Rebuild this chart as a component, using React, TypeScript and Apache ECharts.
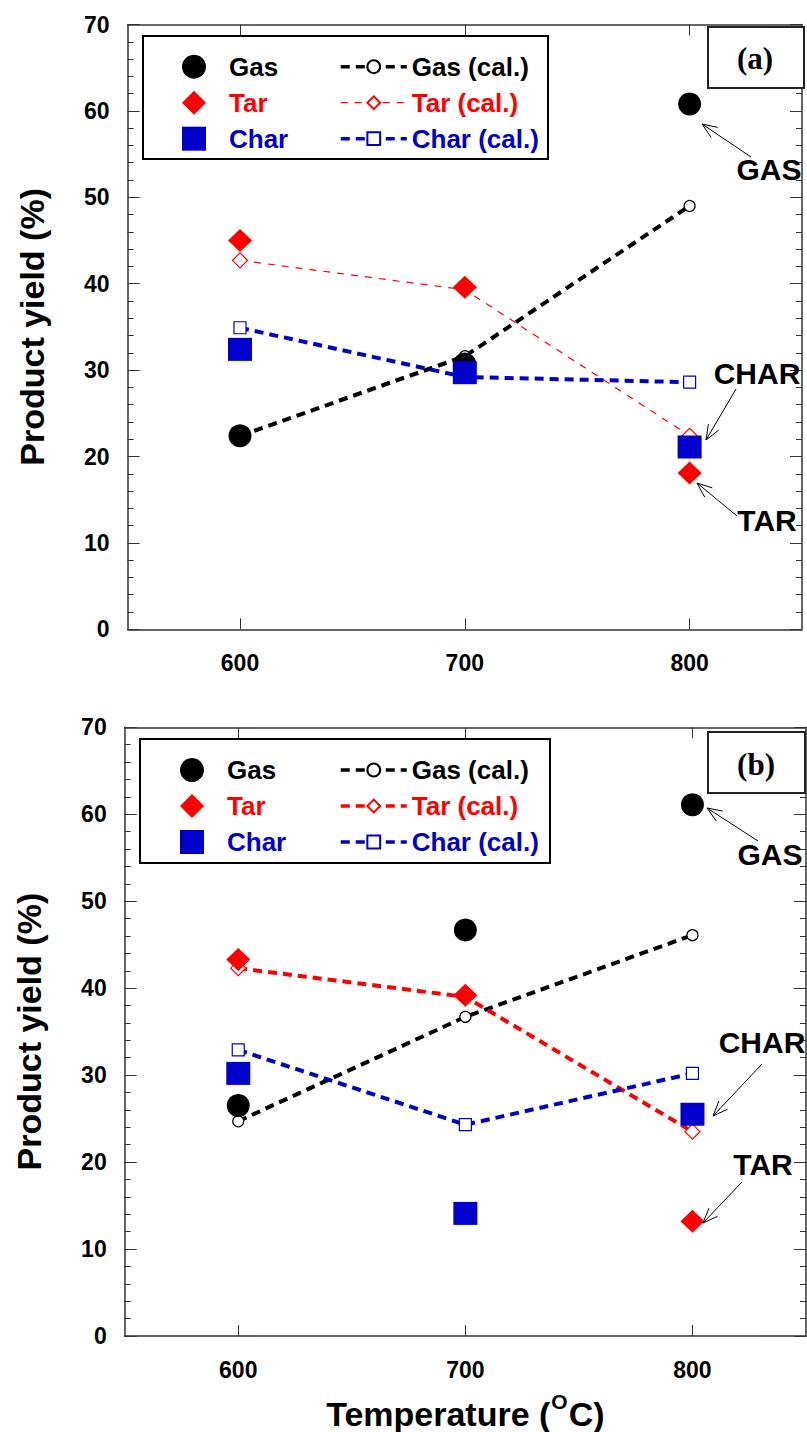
import React, { useEffect, useRef } from 'react';
import * as echarts from 'echarts';

// ---------- data ----------
const temps = [600, 700, 800];
const xTickValues = [600, 700, 800];

// Panel (a)
const gasExpA = [22.4, 30.7, 60.8];
const tarExpA = [45.0, 39.6, 18.1];
const charExpA = [32.4, 29.7, 21.1];
const gasCalA = [22.4, 31.6, 49.0];
const tarCalA = [42.7, 39.3, 22.4];
const charCalA = [34.9, 29.2, 28.6];

// Panel (b)
const gasExpB = [26.5, 46.7, 61.1];
const tarExpB = [43.3, 39.2, 13.2];
const charExpB = [30.2, 14.1, 25.5];
const gasCalB = [24.7, 36.7, 46.1];
const tarCalB = [42.3, 39.0, 23.5];
const charCalB = [32.9, 24.3, 30.2];

// ---------- styles ----------
const SANS = "'Liberation Sans', Arial, Helvetica, sans-serif";
const SERIF = "'Liberation Serif', 'Times New Roman', serif";
const BLACK = '#000000';
const RED = '#FF0000';
const BLUE = '#0000CC';
const AXIS = '#333333';
const THICK = 4;
const THICK_DASH = [9, 6];
const THIN_DASH = [7, 7];

const pts = (ys: number[]) => temps.map((t, i) => [t, ys[i]]);

function arrow(x1: number, y1: number, x2: number, y2: number) {
  const ang = Math.atan2(y1 - y2, x1 - x2);
  const L = 16;
  const a = 0.38;
  const h1 = [x2 + L * Math.cos(ang + a), y2 + L * Math.sin(ang + a)];
  const h2 = [x2 + L * Math.cos(ang - a), y2 + L * Math.sin(ang - a)];
  const style = { stroke: '#000', lineWidth: 1, fill: null as any };
  return [
    { type: 'line', shape: { x1, y1, x2, y2 }, style, z: 50 },
    { type: 'polyline', shape: { points: [h1, [x2, y2], h2] }, style, z: 50 },
  ];
}

function annot(text: string, x: number, y: number) {
  return {
    type: 'text',
    x,
    y,
    z: 50,
    style: {
      text,
      fill: '#000',
      font: `bold 30px ${SANS}`,
      align: 'center',
      verticalAlign: 'middle',
    },
  };
}

function xAxes(gridIndex: number, withName: boolean) {
  const common = {
    type: 'value',
    gridIndex,
    min: 550,
    max: 850,
    splitLine: { show: false },
    axisLine: { show: true, onZero: false, lineStyle: { color: AXIS, width: 1.5 } },
    axisTick: { show: true, inside: true, length: 11, customValues: xTickValues, lineStyle: { color: AXIS, width: 1 } },
  };
  const bottom: any = {
    ...common,
    position: 'bottom',
    axisLabel: {
      show: true,
      customValues: xTickValues,
      margin: 22,
      fontFamily: SANS,
      fontWeight: 'bold',
      fontSize: 23,
      color: '#000',
    },
  };
  if (withName) {
    bottom.name = '{t|Temperature (}{s|O}{t|C)}';
    bottom.nameLocation = 'middle';
    bottom.nameGap = 55;
    bottom.nameTextStyle = {
      rich: {
        t: { fontFamily: SANS, fontWeight: 'bold', fontSize: 34, color: '#000', lineHeight: 40, verticalAlign: 'bottom' },
        s: { fontFamily: SANS, fontWeight: 'bold', fontSize: 21, color: '#000', lineHeight: 40, verticalAlign: 'top', padding: [0, 1, 0, 1] },
      },
    };
  }
  const top: any = { ...common, position: 'top', axisLabel: { show: false } };
  return [bottom, top];
}

function yAxes(gridIndex: number) {
  const common = {
    type: 'value',
    gridIndex,
    min: 0,
    max: 70,
    interval: 10,
    splitLine: { show: false },
    axisLine: { show: true, onZero: false, lineStyle: { color: AXIS, width: 1.5 } },
    axisTick: { show: true, inside: true, length: 12, lineStyle: { color: AXIS, width: 1 } },
    minorTick: { show: true, splitNumber: 5, length: 6, lineStyle: { color: AXIS, width: 1 } },
  };
  const left: any = {
    ...common,
    position: 'left',
    name: 'Product yield (%)',
    nameLocation: 'middle',
    nameRotate: 90,
    nameGap: 79,
    nameTextStyle: { fontFamily: SANS, fontWeight: 'bold', fontSize: 34, color: '#000' },
    axisLabel: { show: true, margin: 18, fontFamily: SANS, fontWeight: 'bold', fontSize: 23, color: '#000' },
  };
  const right: any = { ...common, position: 'right', axisLabel: { show: false } };
  return [left, right];
}

function panelSeries(
  axisIdx: number,
  suffix: string,
  gasExp: number[],
  tarExp: number[],
  charExp: number[],
  gasCal: number[],
  tarCal: number[],
  charCal: number[],
  tarCalWidth: number,
  tarDash: number[]
) {
  const calLine = (name: string, data: number[], color: string, symbol: string, size: any, width: number, dash: number[]) => ({
    type: 'line',
    name: name + suffix,
    xAxisIndex: axisIdx,
    yAxisIndex: axisIdx,
    data: pts(data),
    symbol,
    symbolSize: size,
    showSymbol: true,
    z: 2,
    lineStyle: { color, width, type: dash },
    itemStyle: { color: '#ffffff', borderColor: color, borderWidth: 1.2 },
  });
  const exp = (name: string, data: number[], color: string, symbol: string, size: any) => ({
    type: 'scatter',
    name: name + suffix,
    xAxisIndex: axisIdx,
    yAxisIndex: axisIdx,
    data: pts(data),
    symbol,
    symbolSize: size,
    z: 3,
    itemStyle: { color, opacity: 1 },
  });
  return [
    calLine('Gas (cal.)', gasCal, BLACK, 'circle', 11, THICK, THICK_DASH),
    calLine('Tar (cal.)', tarCal, RED, 'diamond', 15, tarCalWidth, tarDash),
    calLine('Char (cal.)', charCal, BLUE, 'rect', 12, THICK, THICK_DASH),
    exp('Gas', gasExp, BLACK, 'circle', 23),
    exp('Tar', tarExp, RED, 'diamond', [24, 23]),
    exp('Char', charExp, BLUE, 'rect', [24, 23]),
  ];
}

function legends(suffix: string, top: number, leftExp: number, leftCal: number, tarWidth: number, tarDash: number[]) {
  const base = {
    orient: 'vertical',
    top,
    selectedMode: false,
    itemGap: 10,
    formatter: (n: string) => n.replace('_b', ''),
  };
  return [
    {
      ...base,
      left: leftExp,
      itemWidth: 24,
      itemHeight: 24,
      textStyle: { fontFamily: SANS, fontWeight: 'bold', fontSize: 26, lineHeight: 26, padding: [0, 0, 0, 18] },
      data: [
        { name: 'Gas' + suffix, textStyle: { color: BLACK } },
        { name: 'Tar' + suffix, textStyle: { color: RED } },
        { name: 'Char' + suffix, textStyle: { color: BLUE } },
      ],
    },
    {
      ...base,
      left: leftCal,
      itemWidth: 66,
      itemHeight: 16,
      textStyle: { fontFamily: SANS, fontWeight: 'bold', fontSize: 26, lineHeight: 26, padding: [0, 0, 0, 0] },
      data: [
        { name: 'Gas (cal.)' + suffix, textStyle: { color: BLACK }, lineStyle: { color: BLACK, width: 3.5, type: THICK_DASH } },
        { name: 'Tar (cal.)' + suffix, textStyle: { color: RED }, lineStyle: { color: RED, width: tarWidth, type: tarDash } },
        { name: 'Char (cal.)' + suffix, textStyle: { color: BLUE }, lineStyle: { color: BLUE, width: 3.5, type: THICK_DASH } },
      ],
    },
  ];
}

export default function App() {
  const ref = useRef<HTMLDivElement>(null);

  useEffect(() => {
    if (!ref.current) return;
    const chart = echarts.init(ref.current, undefined, { renderer: 'svg' });

    const graphic: any[] = [
      // legend frames
      { type: 'rect', shape: { x: 143, y: 36, width: 405, height: 123 }, style: { fill: 'transparent', stroke: '#000', lineWidth: 2 }, z: 0 },
      { type: 'rect', shape: { x: 140, y: 739, width: 410, height: 124 }, style: { fill: 'transparent', stroke: '#000', lineWidth: 2 }, z: 0 },
      // panel labels
      { type: 'rect', shape: { x: 708, y: 27, width: 96, height: 61 }, style: { fill: '#fff', stroke: '#222', lineWidth: 2 }, z: 40 },
      { type: 'text', x: 755, y: 58, z: 41, style: { text: '(a)', fill: '#000', font: `bold 31px ${SERIF}`, align: 'center', verticalAlign: 'middle' } },
      { type: 'rect', shape: { x: 708, y: 732, width: 97, height: 61 }, style: { fill: '#fff', stroke: '#222', lineWidth: 2 }, z: 40 },
      { type: 'text', x: 756, y: 764, z: 41, style: { text: '(b)', fill: '#000', font: `bold 31px ${SERIF}`, align: 'center', verticalAlign: 'middle' } },
      // annotations panel (a)
      annot('GAS', 769, 169),
      ...arrow(751, 157, 702, 124),
      annot('CHAR', 757, 373),
      ...arrow(736, 389, 706, 440),
      annot('TAR', 767, 520),
      ...arrow(737, 516, 697, 483),
      // annotations panel (b)
      annot('GAS', 770, 854),
      ...arrow(758, 841, 707, 808),
      annot('CHAR', 762, 1042),
      ...arrow(762, 1064, 713, 1116),
      annot('TAR', 763, 1164),
      ...arrow(742, 1182, 703, 1223),
    ];

    chart.setOption({
      animation: false,
      backgroundColor: '#ffffff',
      grid: [
        { left: 127.6, top: 24.5, width: 674.4, height: 604.8 },
        { left: 124.7, top: 727.3, width: 681.3, height: 611.7 },
      ],
      xAxis: [...xAxes(0, false), ...xAxes(1, true)],
      yAxis: [...yAxes(0), ...yAxes(1)],
      legend: [
        ...legends('', 48.7, 177, 334, 1.2, THIN_DASH),
        ...legends('_b', 752, 175, 334, 3.5, THICK_DASH),
      ],
      series: [
        ...panelSeries(0, '', gasExpA, tarExpA, charExpA, gasCalA, tarCalA, charCalA, 1.2, THIN_DASH),
        ...panelSeries(2, '_b', gasExpB, tarExpB, charExpB, gasCalB, tarCalB, charCalB, THICK, THICK_DASH),
      ],
      graphic,
    });

    return () => chart.dispose();
  }, []);

  return (
    <div
      ref={ref}
      style={{ position: 'absolute', left: 0, top: 0, width: 807, height: 1432, background: '#fff' }}
    />
  );
}
